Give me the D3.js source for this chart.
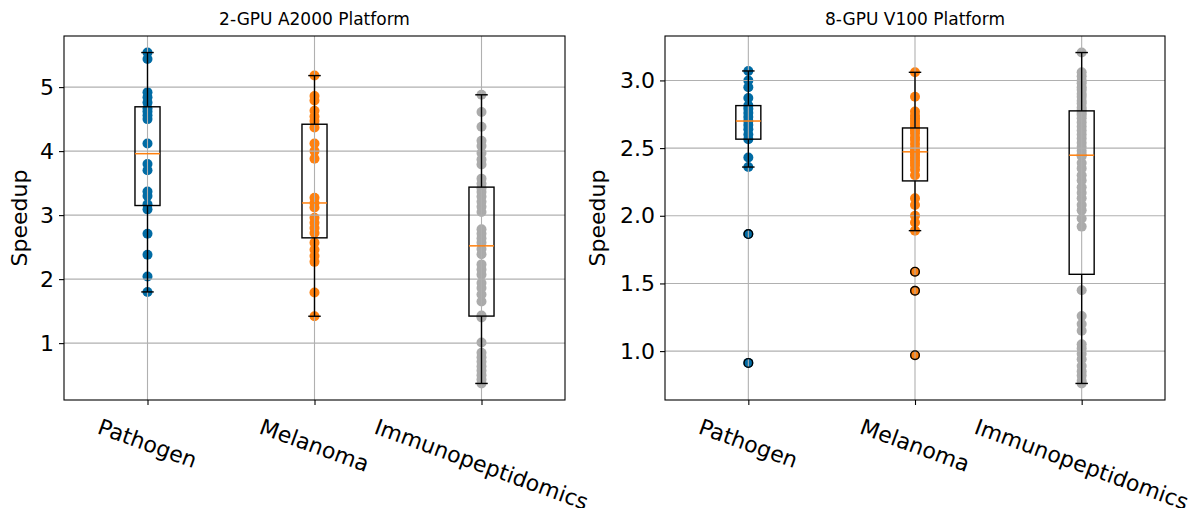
<!DOCTYPE html>
<html>
<head>
<meta charset="utf-8">
<script src="https://cdn.jsdelivr.net/npm/d3@7"></script>
<style>
  body { margin: 0; background: #ffffff; }
  text { font-family: "DejaVu Sans", sans-serif; }
</style>
</head>
<body>
<div id="chart"></div>
<script>
// Categories and colours (tableau-colorblind10)
const categories = ['Pathogen', 'Melanoma', 'Immunopeptidomics'];
const catColors = ['#006BA4', '#FF800E', '#ABABAB'];

// 2-GPU A2000 speedups
const a2000Pathogen = [1.80, 2.04, 2.38, 2.71, 3.09, 3.17, 3.30, 3.37, 3.70, 3.80,
  4.12, 4.50, 4.56, 4.62, 4.67, 4.76, 4.84, 4.92, 5.44, 5.54];
const a2000Melanoma = [1.42, 1.79, 2.27, 2.36, 2.46, 2.57, 2.72, 2.80, 2.88, 2.96,
  3.12, 3.19, 3.27, 3.88, 4.00, 4.12, 4.37, 4.47, 4.54, 4.63, 4.79, 4.86, 5.18];
const a2000Immuno = [0.37, 0.43, 0.50, 0.57, 0.64, 0.71, 0.78, 0.85, 1.01, 1.40,
  1.43, 1.65, 1.76, 1.86, 1.94, 2.07, 2.15, 2.23, 2.39, 2.47,
  2.57, 2.64, 2.71, 2.78, 3.05, 3.13, 3.21, 3.29, 3.36, 3.42,
  3.49, 3.57, 3.79, 3.87, 3.97, 4.08, 4.16, 4.38, 4.61, 4.88];

// 8-GPU V100 speedups
const v100Pathogen = [0.913, 1.865, 2.36, 2.43, 2.566, 2.60, 2.64, 2.67, 2.70, 2.73,
  2.76, 2.79, 2.814, 2.87, 2.95, 3.00, 3.07];
const v100Melanoma = [0.97, 1.446, 1.587, 1.89, 1.95, 2.00, 2.08, 2.13,
  2.30, 2.34, 2.37, 2.39, 2.41, 2.43, 2.45, 2.465,
  2.48, 2.50, 2.53, 2.56, 2.58, 2.61, 2.63, 2.645,
  2.66, 2.68, 2.70, 2.72, 2.74, 2.77, 2.88, 3.06];
const v100Immuno = [0.761, 0.78, 0.82, 0.85, 0.89, 0.94, 0.98, 1.02, 1.05, 1.15, 1.20, 1.26,
  1.45,
  1.92, 1.98, 2.04, 2.08, 2.13, 2.17, 2.21, 2.26, 2.30, 2.35, 2.39, 2.44,
  2.455, 2.48, 2.51, 2.54, 2.57, 2.60, 2.63, 2.66, 2.69, 2.72, 2.745, 2.76,
  2.78, 2.80, 2.83, 2.85, 2.88, 2.90, 2.93, 2.95, 2.98, 3.00, 3.03, 3.06,
  3.206];

// Tick labels
const a2000Ticks = [1, 2, 3, 4, 5];
const v100Ticks = [1.0, 1.5, 2.0, 2.5, 3.0];

const width = 1195;
const height = 508;
const plotTop = 36;
const plotBottom = 400;
const labelSize = 22;

const svg = d3.select('#chart')
  .append('svg')
  .attr('width', width)
  .attr('height', height);

// matplotlib style box stats
function boxStats(values) {
  const v = values.slice().sort(d3.ascending);
  const q1 = d3.quantile(v, 0.25);
  const med = d3.quantile(v, 0.5);
  const q3 = d3.quantile(v, 0.75);
  const iqr = q3 - q1;
  const lo = d3.min(v.filter(d => d >= q1 - 1.5 * iqr));
  const hi = d3.max(v.filter(d => d <= q3 + 1.5 * iqr));
  const fliers = v.filter(d => d < lo || d > hi);
  return { q1, med, q3, lo, hi, fliers };
}

function drawPanel(left, right, title, groups, ticks, fmt, ylabelX) {
  const all = groups.flat();
  const [mn, mx] = d3.extent(all);
  const pad = (mx - mn) * 0.05;

  const x = d3.scaleLinear().domain([0.5, 3.5]).range([left, right]);
  const y = d3.scaleLinear().domain([mn - pad, mx + pad]).range([plotBottom, plotTop]);

  const g = svg.append('g');

  // Scatter points (below grid, like matplotlib zorder)
  groups.forEach((vals, i) => {
    g.append('g')
      .selectAll('circle')
      .data(vals)
      .join('circle')
      .attr('cx', x(i + 1))
      .attr('cy', d => y(d))
      .attr('r', 5)
      .attr('fill', catColors[i]);
  });

  // Grid lines
  g.append('g')
    .selectAll('line')
    .data(ticks)
    .join('line')
    .attr('x1', left).attr('x2', right)
    .attr('y1', d => y(d)).attr('y2', d => y(d))
    .attr('stroke', '#b0b0b0')
    .attr('stroke-width', 1.1);
  g.append('g')
    .selectAll('line')
    .data(categories)
    .join('line')
    .attr('x1', (d, i) => x(i + 1)).attr('x2', (d, i) => x(i + 1))
    .attr('y1', plotTop).attr('y2', plotBottom)
    .attr('stroke', '#b0b0b0')
    .attr('stroke-width', 1.1);

  // Box plots
  const bw = (x(1.075) - x(0.925));
  groups.forEach((vals, i) => {
    const s = boxStats(vals);
    const cx = x(i + 1);
    const b = g.append('g').attr('fill', 'none').attr('stroke', '#000').attr('stroke-width', 1.4);

    b.append('rect')
      .attr('x', cx - bw / 2)
      .attr('y', y(s.q3))
      .attr('width', bw)
      .attr('height', y(s.q1) - y(s.q3));

    // whiskers
    b.append('line').attr('x1', cx).attr('x2', cx).attr('y1', y(s.q3)).attr('y2', y(s.hi));
    b.append('line').attr('x1', cx).attr('x2', cx).attr('y1', y(s.q1)).attr('y2', y(s.lo));

    // caps
    [s.hi, s.lo].forEach(c => {
      b.append('line')
        .attr('x1', cx - bw / 4).attr('x2', cx + bw / 4)
        .attr('y1', y(c)).attr('y2', y(c));
    });

    // median
    b.append('line')
      .attr('x1', cx - bw / 2).attr('x2', cx + bw / 2)
      .attr('y1', y(s.med)).attr('y2', y(s.med))
      .attr('stroke', '#FF800E')
      .attr('stroke-width', 1.5);

    // fliers
    b.selectAll('circle.flier')
      .data(s.fliers)
      .join('circle')
      .attr('class', 'flier')
      .attr('cx', cx)
      .attr('cy', d => y(d))
      .attr('r', 4.3)
      .attr('stroke-width', 1.4);
  });

  // Frame
  g.append('rect')
    .attr('x', left).attr('y', plotTop)
    .attr('width', right - left).attr('height', plotBottom - plotTop)
    .attr('fill', 'none')
    .attr('stroke', '#000')
    .attr('stroke-width', 1.1);

  // Y axis
  const yAxis = g.append('g')
    .attr('transform', `translate(${left},0)`)
    .call(d3.axisLeft(y).tickValues(ticks).tickFormat(fmt).tickSize(5).tickPadding(5));
  yAxis.select('.domain').remove();
  yAxis.selectAll('line').attr('stroke-width', 1.1);
  yAxis.selectAll('text').attr('font-size', labelSize).attr('font-family', 'DejaVu Sans').attr('fill', '#000');

  // X axis
  const xAxis = g.append('g')
    .attr('transform', `translate(0,${plotBottom})`)
    .call(d3.axisBottom(x).tickValues([1, 2, 3]).tickFormat('').tickSize(5));
  xAxis.select('.domain').remove();
  xAxis.selectAll('line').attr('stroke-width', 1.1);

  // Rotated category labels
  const rad = 20 * Math.PI / 180;
  categories.forEach((c, i) => {
    const t = g.append('text')
      .attr('text-anchor', 'middle')
      .attr('dy', '0.35em')
      .attr('font-size', labelSize)
      .attr('fill', '#000')
      .text(c);
    const L = t.node().getComputedTextLength();
    const yc = plotBottom + 14 + (L / 2) * Math.sin(rad) + 12.5 * Math.cos(rad);
    t.attr('transform', `translate(${x(i + 1)},${yc}) rotate(20)`);
  });

  // Title
  g.append('text')
    .attr('x', (left + right) / 2)
    .attr('y', 25)
    .attr('text-anchor', 'middle')
    .attr('font-size', 17)
    .attr('fill', '#000')
    .text(title);

  // Y label
  g.append('text')
    .attr('transform', `translate(${ylabelX},${(plotTop + plotBottom) / 2}) rotate(-90)`)
    .attr('text-anchor', 'middle')
    .attr('dy', '0.35em')
    .attr('font-size', labelSize)
    .attr('fill', '#000')
    .text('Speedup');
}

drawPanel(64, 565, '2-GPU A2000 Platform',
  [a2000Pathogen, a2000Melanoma, a2000Immuno], a2000Ticks, d3.format('d'), 19);
drawPanel(665, 1165, '8-GPU V100 Platform',
  [v100Pathogen, v100Melanoma, v100Immuno], v100Ticks, d3.format('.1f'), 597);
</script>
</body>
</html>
